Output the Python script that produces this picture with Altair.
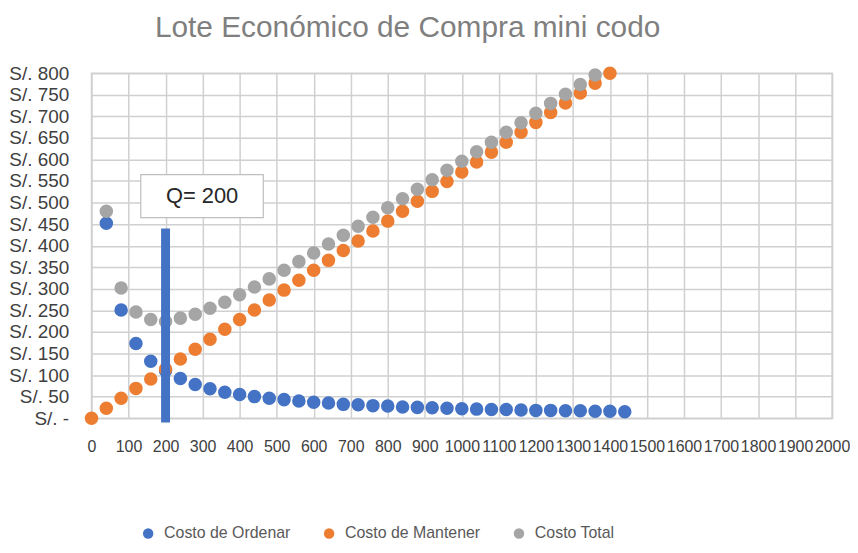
import altair as alt
import pandas as pd

titulo = "Lote Económico de Compra mini codo"
series = ["Costo de Ordenar", "Costo de Mantener", "Costo Total"]
colores = ["#4472C4", "#ED7D31", "#A5A5A5"]

q_ordenar = [40, 80, 120, 160, 200, 240, 280, 320, 360, 400, 440, 480, 520, 560, 600, 640, 680, 720,
             760, 800, 840, 880, 920, 960, 1000, 1040, 1080, 1120, 1160, 1200, 1240, 1280, 1320, 1360, 1400, 1440]
costo_ordenar = [452, 251, 173, 132, 110, 92, 78, 68, 60, 55, 50, 46, 43, 40, 37, 35, 32, 31,
                 29, 28, 26, 25, 24, 23, 22, 21, 20, 20, 19, 18, 18, 17, 17, 16, 16, 15]

q_mantener = [0, 40, 80, 120, 160, 200, 240, 280, 320, 360, 400, 440, 480, 520, 560, 600, 640, 680, 720,
              760, 800, 840, 880, 920, 960, 1000, 1040, 1080, 1120, 1160, 1200, 1240, 1280, 1320, 1360, 1400, 1440]
costo_mantener = [0, 23, 46, 69, 91, 114, 137, 160, 183, 206, 229, 251, 274, 297, 320, 343, 366, 389, 411,
                  434, 457, 480, 503, 526, 549, 571, 594, 617, 640, 663, 686, 709, 731, 754, 777, 800, 823]

q_total = q_ordenar
costo_total = [480, 302, 246, 229, 224, 232, 241, 255, 269, 286, 304, 323, 343, 363, 383, 404, 424, 445,
               466, 488, 509, 531, 553, 575, 596, 618, 640, 663, 685, 707, 730, 751, 774, 796, 816, 838]

x_ticks = [0, 100, 200, 300, 400, 500, 600, 700, 800, 900, 1000, 1100, 1200, 1300, 1400, 1500,
           1600, 1700, 1800, 1900, 2000]
y_ticks = [0, 50, 100, 150, 200, 250, 300, 350, 400, 450, 500, 550, 600, 650, 700, 750, 800]

q_optimo = 200
barra_tope = 440
barra_base = -10
caja_texto = "Q= 200"
caja_x = [133, 464]
caja_y = [465, 565]

filas = []
for i, (qs, vs) in enumerate([(q_ordenar, costo_ordenar), (q_mantener, costo_mantener), (q_total, costo_total)]):
    for q, v in zip(qs, vs):
        filas.append({"q": q, "costo": v, "serie": series[i], "orden": i})
df = pd.DataFrame(filas)

FONT = "Liberation Sans"
xscale = alt.Scale(domain=[0, 2000], nice=False, zero=False)
yscale = alt.Scale(domain=[0, 800], nice=False)
xaxis = alt.Axis(values=x_ticks, title=None, labelOverlap=False, labelFlush=False, labelPadding=21,
                 labelFontSize=16, format="d", grid=True)
yaxis = alt.Axis(values=y_ticks, title=None, labelOverlap=False, labelPadding=23, labelFontSize=19,
                 labelExpr="datum.value == 0 ? 'S/. -' : 'S/. ' + datum.value", grid=True)


def X(field):
    return alt.X(field, scale=xscale, axis=xaxis)


def Y(field):
    return alt.Y(field, scale=yscale, axis=yaxis)


puntos = alt.Chart(df).transform_filter("datum.costo <= 800").mark_circle(size=185, opacity=1).encode(
    x=X("q:Q"),
    y=Y("costo:Q"),
    color=alt.Color("serie:N", scale=alt.Scale(domain=series, range=colores), sort=series,
                    legend=alt.Legend(title=None, orient="none", direction="horizontal",
                                      legendX=49, legendY=455, symbolType="circle", symbolSize=110,
                                      labelFontSize=16, labelColor="#595959", labelFont=FONT,
                                      columnPadding=30, labelOffset=8, padding=0)),
    order=alt.Order("orden:Q"),
)

barra_df = pd.DataFrame({"q": [q_optimo], "y1": [barra_base], "y2": [barra_tope]})
barra = alt.Chart(barra_df).mark_rule(strokeWidth=9, color="#4472C4").encode(
    x=X("q:Q"),
    y=Y("y1:Q"),
    y2="y2:Q",
)

caja_df = pd.DataFrame({"x1": [caja_x[0]], "x2": [caja_x[1]], "y1": [caja_y[0]], "y2": [caja_y[1]],
                        "xc": [(caja_x[0] + caja_x[1]) / 2], "yc": [(caja_y[0] + caja_y[1]) / 2],
                        "t": [caja_texto]})
caja = alt.Chart(caja_df).mark_rect(fill="white", stroke="#BFBFBF", strokeWidth=1.2).encode(
    x=X("x1:Q"), x2="x2:Q",
    y=Y("y1:Q"), y2="y2:Q",
)
texto = alt.Chart(caja_df).mark_text(fontSize=22, font=FONT, color="#262626", baseline="middle",
                                     align="center").encode(
    x=X("xc:Q"),
    y=Y("yc:Q"),
    text="t:N",
)

titulo_df = pd.DataFrame({"t": [titulo]})
titulo_mark = alt.Chart(titulo_df).mark_text(fontSize=30, font=FONT, color="#7F7F7F", align="center",
                                             baseline="alphabetic").encode(
    x=alt.value(318), y=alt.value(-36), text="t:N",
)

chart = alt.layer(puntos, barra, caja, texto, titulo_mark).properties(
    width=745, height=347,
    padding={"left": 84, "top": 64, "right": 18, "bottom": 126},
    autosize=alt.AutoSizeParams(type="none"),
).configure_axis(
    grid=True, gridColor="#D0D0D0", gridWidth=1.5, domain=False, ticks=False,
    labelFont=FONT, labelColor="#404040",
).configure_view(stroke="#D0D0D0", strokeWidth=1.5)

chart.save("out.html", embed_options={"renderer": "svg", "actions": False})
